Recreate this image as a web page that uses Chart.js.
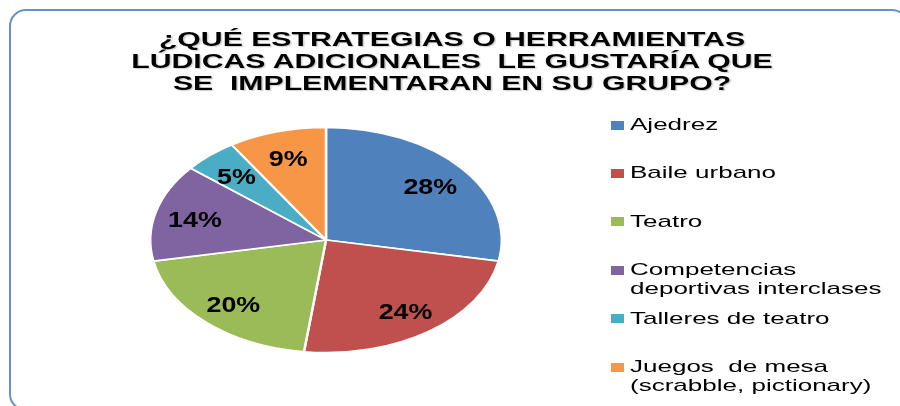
<!DOCTYPE html>
<html>
<head>
<meta charset="utf-8">
<script src="https://cdn.jsdelivr.net/npm/chart.js@4.4.0/dist/chart.umd.min.js"></script>
<style>
html, body { margin: 0; padding: 0; background: #fff; overflow: hidden; }
#wrap { position: relative; width: 900px; height: 406px; overflow: hidden; }
#frame { position: absolute; left: 9px; top: 9px; width: 900px; height: 402px; border: 2px solid #6592cf; border-radius: 17px; box-sizing: border-box; }
#pie { position: absolute; left: 0; top: 0; }
#title { position: absolute; left: 2px; top: 28px; width: 900px; text-align: center; font: bold 20px "Liberation Sans", Arial, sans-serif; line-height: 22px; color: #000; }
#title div { transform: scaleX(1.51); transform-origin: 50% 0; white-space: pre; text-shadow: 1px 1px 1px rgba(0,0,0,0.2); }
.key { position: absolute; width: 13px; height: 9px; }
.keytext { position: absolute; font: 17px "Liberation Sans", Arial, sans-serif; line-height: 19px; color: #000; white-space: pre; transform: scaleX(1.53); transform-origin: 0 0; }
</style>
</head>
<body>
<div id="wrap">
  <div id="frame"></div>
  <canvas id="pie" width="900" height="406"></canvas>
  <div id="title"></div>
  <div id="legend"></div>
</div>
<script>
// data
const titleLines = ['¿QUÉ ESTRATEGIAS O HERRAMIENTAS', 'LÚDICAS ADICIONALES  LE GUSTARÍA QUE', 'SE  IMPLEMENTARAN EN SU GRUPO?'];
const categories = ['Ajedrez', 'Baile urbano', 'Teatro', 'Competencias deportivas interclases', 'Talleres de teatro', 'Juegos  de mesa (scrabble, pictionary)'];
const legendLines = [['Ajedrez'], ['Baile urbano'], ['Teatro'], ['Competencias', 'deportivas interclases'], ['Talleres de teatro'], ['Juegos  de mesa', '(scrabble, pictionary)']];
const percentages = [28, 24, 20, 14, 5, 9];
const sliceColors = ['#4f81bd', '#c0504d', '#9bbb59', '#8064a2', '#4bacc6', '#f79646'];

// the pie in the picture is an ellipse, squash it vertically
let pieCenterY = 240;
let squash = 0.641;

document.getElementById('title').innerHTML = titleLines.map(t => '<div>' + t + '</div>').join('');

let legend = document.getElementById('legend');
legendLines.forEach((lines, i) => {
    let y = 125 + i * 48.4;
    let key = document.createElement('div');
    key.className = 'key';
    key.style.left = '611px';
    key.style.top = (y - 4.5) + 'px';
    key.style.background = sliceColors[i];
    legend.appendChild(key);
    let txt = document.createElement('div');
    txt.className = 'keytext';
    txt.style.left = '630px';
    txt.style.top = (y - 10) + 'px';
    txt.textContent = lines.join('\n');
    legend.appendChild(txt);
});

const squashPie = {
    id: 'squashPie',
    beforeDatasetsDraw(chart) {
        let arc = chart.getDatasetMeta(0).data[0];
        let ctx = chart.ctx;
        ctx.save();
        ctx.translate(arc.x, pieCenterY);
        ctx.scale(1, squash);
        ctx.translate(-arc.x, -arc.y);
    },
    afterDatasetsDraw(chart) {
        let ctx = chart.ctx;
        ctx.restore();
        let meta = chart.getDatasetMeta(0);
        ctx.save();
        ctx.font = 'bold 22px "Liberation Sans", Arial, sans-serif';
        ctx.fillStyle = '#000';
        ctx.textAlign = 'center';
        ctx.textBaseline = 'middle';
        meta.data.forEach((arc, i) => {
            let mid = (arc.startAngle + arc.endAngle) / 2;
            let r = arc.outerRadius * 0.77;
            let x = arc.x + Math.cos(mid) * r;
            let y = pieCenterY + Math.sin(mid) * r * squash + 3;
            ctx.save();
            ctx.translate(x, y);
            ctx.scale(1.22, 1);
            ctx.fillText(percentages[i] + '%', 0, 0);
            ctx.restore();
        });
        ctx.restore();
    }
};

new Chart(document.getElementById('pie').getContext('2d'), {
    type: 'pie',
    data: {
        labels: categories,
        datasets: [{
            data: percentages,
            backgroundColor: sliceColors,
            borderColor: '#ffffff',
            borderWidth: 2.5
        }]
    },
    options: {
        responsive: false,
        animation: false,
        events: [],
        layout: { padding: { left: 149, right: 397, top: 26, bottom: 26 } },
        plugins: {
            legend: { display: false },
            tooltip: { enabled: false }
        }
    },
    plugins: [squashPie]
});
</script>
</body>
</html>
